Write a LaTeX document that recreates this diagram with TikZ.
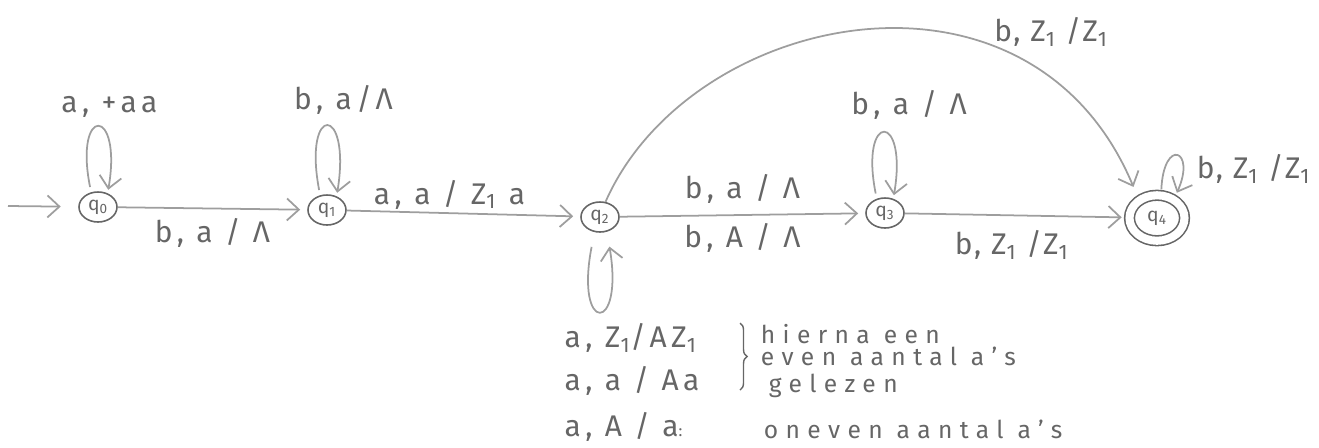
\documentclass[tikz,border=0pt]{standalone}
\usepackage{fontspec}
\setmainfont{Fira Sans}
\usetikzlibrary{shapes.geometric,arrows.meta,positioning,decorations.pathreplacing}
\definecolor{ink}{HTML}{666666}
\definecolor{pencil}{HTML}{9E9E9E}
\newcommand{\zs}{Z\textsubscript{1}}

\begin{document}
\begin{tikzpicture}[>={Straight Barb[length=2.4mm,width=4.4mm]}, line width=1pt]
    \tikzset{
        state/.style={draw=ink, ellipse, minimum width=0.76cm, minimum height=0.6cm, inner sep=0pt, text=ink, font=\fontsize{11}{12}\selectfont, line width=0.9pt},
        accept/.style={state, minimum width=1.1cm, minimum height=0.91cm, double, double distance=4.6pt},
        lbl/.style={text=ink, font=\fontsize{17}{20}\selectfont\addfontfeature{LetterSpace=15}, inner sep=1pt},
        lblz/.style={lbl, font=\fontsize{17}{20}\selectfont\addfontfeature{LetterSpace=6}},
        note/.style={text=ink, font=\fontsize{14}{16}\selectfont\addfontfeature{LetterSpace=30}, inner sep=0pt, anchor=base west},
        line/.style={draw=pencil, ->, shorten >=4pt},
        loopline/.style={draw=pencil, ->, shorten <=3pt, shorten >=2pt}
    }
    \useasboundingbox (0,0) rectangle (26.38,-8.94);

    % States
    \node[state] (q0) at (1.96,-4.14) {q\textsubscript{0}};
    \node[state] (q1) at (6.54,-4.20) {q\textsubscript{1}};
    \node[state] (q2) at (12.0,-4.34) {q\textsubscript{2}};
    \node[state] (q3) at (17.7,-4.26) {q\textsubscript{3}};
    \node[accept] (q4) at (23.14,-4.36) {q\textsubscript{4}};
    \coordinate (start) at (0.16,-4.12);

    % Transitions between states
    \path[line, shorten >=0.35cm] (start) -- (q0);
    \path[line] (q0) -- node[below=4pt, lbl] {b, a / Λ} (q1);
    \path[line] (q1) -- node[above=1pt, xshift=-0.28cm, lbl] {a, a / \zs\ a} (q2);
    \path[line] (q2) -- node[above=5pt, lbl] {b, a / Λ} node[below=3pt, lbl] {b, A / Λ} (q3);
    \path[line] (q3) -- node[below=7pt, xshift=-0.1cm, lblz] {b, \zs\ /\zs} (q4);
    \path[line, shorten >=8pt] (q2.70) .. controls (13.8,-0.2) and (20.6,1.2) .. node[pos=0.7, anchor=south west, lblz] {b, \zs\ /\zs} (q4.135);

    % Loops
    \path[loopline] (q0.115) .. controls +(-0.35,1.75) and +(0.3,1.75) .. node[above=4pt, xshift=0.22cm, lbl] {a, +aa} (q0.55);
    \path[loopline] (q1.115) .. controls +(-0.35,1.85) and +(0.3,1.85) .. node[above=5pt, xshift=0.32cm, lbl] {b, a/Λ} (q1.55);
    \path[loopline] (q3.120) .. controls +(-0.35,1.75) and +(0.3,1.75) .. node[above=6pt, xshift=0.5cm, lbl] {b, a / Λ} (q3.60);
    \path[loopline, shorten >=4pt] (q4.80) .. controls +(0.05,1.15) and +(0.45,1.0) .. node[pos=0.75, right=7pt, lblz] {b, \zs\ /\zs} (q4.48);
    \path[loopline, shorten <=0.3cm, shorten >=0.3cm] (q2.250) .. controls +(-0.4,-2.05) and +(0.35,-2.05) .. (q2.295);

    % Stack moves for the loop on q2
    \node[lbl, anchor=west] (m1) at (11.24,-6.76) {a, \zs/A\zs};
    \node[lbl, anchor=west] (m2) at (11.24,-7.62) {a, a / Aa};
    \node[lbl, anchor=west] (m3) at (11.24,-8.54) {a, A / a{\fontsize{9}{9}\selectfont :}};

    % Remarks
    \coordinate (btop) at (14.8,-6.46);
    \coordinate (bbot) at (14.8,-7.8);
    \draw[ink, line width=0.8pt, decorate, decoration={brace, amplitude=4pt}] (btop) -- (bbot);
    \node[note] (r1) at (15.2,-6.86) {hierna een};
    \node[note] (r2) at (15.2,-7.30) {even aantal a's};
    \node[note] (r3) at (15.36,-7.84) {gelezen};
    \node[note] (r4) at (15.26,-8.76) {oneven aantal a's};
\end{tikzpicture}
\end{document}
